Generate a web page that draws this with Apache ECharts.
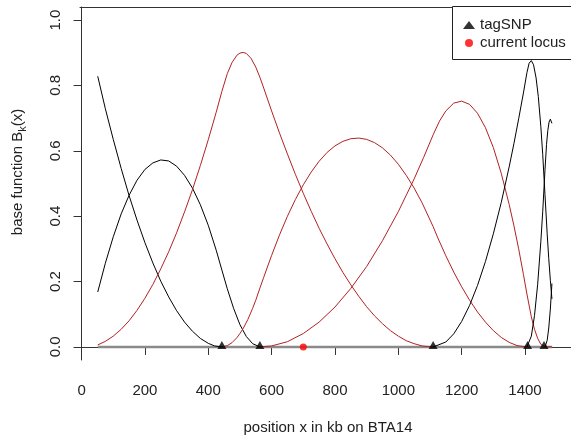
<!DOCTYPE html>
<html><head><meta charset="utf-8">
<script src="https://cdn.jsdelivr.net/npm/echarts@6/dist/echarts.min.js"></script>
<style>html,body{margin:0;padding:0;background:#fff;overflow:hidden}#c{width:584px;height:440px}</style>
</head><body><div id="c"></div>
<script>
// ---- data ----
const xTicks = [0, 200, 400, 600, 800, 1000, 1200, 1400];
const yTicks = [0, 0.2, 0.4, 0.6, 0.8, 1.0];
const tagSNP = [443, 563, 1110, 1408, 1460];
const currentLocus = [700];
const zeroLineX = [51, 1486];

// basis function 1 (black)
const b1x = [51, 75, 100, 125, 150, 175, 200, 225, 250, 275, 300, 325, 350, 375, 400, 420, 443];
const b1y = [0.828, 0.729, 0.635, 0.546, 0.463, 0.388, 0.319, 0.257, 0.201, 0.153, 0.111, 0.076, 0.048, 0.026, 0.011, 0.003, 0];
// basis function 2 (black)
const b2x = [51, 75, 100, 125, 150, 175, 200, 225, 250, 275, 300, 325, 350, 375, 400, 425, 443, 460, 480, 500, 520, 540, 563];
const b2y = [0.168, 0.256, 0.337, 0.407, 0.464, 0.510, 0.543, 0.563, 0.572, 0.569, 0.553, 0.525, 0.486, 0.435, 0.372, 0.296, 0.235, 0.178, 0.118, 0.068, 0.032, 0.010, 0];
// basis function 3 (red)
const b3x = [51, 75, 100, 125, 150, 175, 200, 225, 250, 275, 300, 325, 350, 375, 400, 425, 443, 460, 475, 490, 500, 510, 520, 535, 550, 563, 575, 600, 625, 650, 675, 700, 725, 750, 775, 800, 825, 850, 875, 900, 925, 950, 975, 1000, 1025, 1050, 1075, 1110];
const b3y = [0.006, 0.017, 0.033, 0.054, 0.080, 0.112, 0.149, 0.191, 0.239, 0.291, 0.349, 0.413, 0.481, 0.555, 0.634, 0.718, 0.782, 0.836, 0.870, 0.892, 0.899, 0.901, 0.898, 0.883, 0.856, 0.825, 0.792, 0.722, 0.654, 0.590, 0.528, 0.470, 0.415, 0.363, 0.315, 0.270, 0.228, 0.190, 0.155, 0.123, 0.095, 0.071, 0.050, 0.033, 0.019, 0.010, 0.003, 0];
// basis function 4 (red)
const b4x = [443, 460, 475, 490, 500, 510, 525, 540, 550, 563, 575, 600, 625, 650, 675, 700, 725, 750, 775, 800, 825, 850, 875, 900, 925, 950, 975, 1000, 1025, 1050, 1075, 1110, 1125, 1150, 1175, 1200, 1225, 1250, 1275, 1300, 1325, 1350, 1375, 1406];
const b4y = [0, 0.004, 0.013, 0.028, 0.041, 0.056, 0.084, 0.118, 0.143, 0.180, 0.213, 0.280, 0.343, 0.400, 0.451, 0.496, 0.535, 0.568, 0.595, 0.615, 0.629, 0.637, 0.639, 0.635, 0.625, 0.609, 0.587, 0.559, 0.525, 0.486, 0.441, 0.368, 0.333, 0.279, 0.229, 0.184, 0.143, 0.107, 0.076, 0.050, 0.029, 0.014, 0.004, 0];
// basis function 5 (red)
const b5x = [563, 600, 650, 700, 750, 800, 850, 900, 950, 1000, 1050, 1080, 1110, 1130, 1150, 1175, 1200, 1225, 1250, 1275, 1300, 1325, 1350, 1365, 1380, 1395, 1406, 1420, 1430, 1440, 1450, 1463, 1485];
const b5y = [0, 0.003, 0.016, 0.041, 0.076, 0.122, 0.179, 0.246, 0.325, 0.414, 0.514, 0.580, 0.649, 0.691, 0.722, 0.746, 0.752, 0.742, 0.715, 0.671, 0.610, 0.531, 0.436, 0.371, 0.300, 0.222, 0.162, 0.092, 0.054, 0.026, 0.008, 0, 0];
// basis function 6 (black)
const b6x = [1110, 1150, 1175, 1200, 1225, 1250, 1275, 1300, 1325, 1350, 1365, 1380, 1395, 1406, 1413, 1420, 1427, 1435, 1442, 1450, 1456, 1463, 1470, 1475, 1480, 1485];
const b6y = [0, 0.015, 0.040, 0.078, 0.127, 0.188, 0.261, 0.346, 0.442, 0.551, 0.622, 0.698, 0.777, 0.839, 0.868, 0.876, 0.863, 0.823, 0.766, 0.674, 0.588, 0.467, 0.346, 0.270, 0.204, 0.147];
// basis function 7 (black)
const b7x = [1406, 1420, 1430, 1440, 1450, 1456, 1463, 1468, 1472, 1476, 1480, 1483, 1485];
const b7y = [0, 0.033, 0.096, 0.192, 0.322, 0.415, 0.540, 0.620, 0.662, 0.688, 0.697, 0.692, 0.684];
// basis function 8 (black)
const b8x = [1463, 1470, 1475, 1480, 1485];
const b8y = [0, 0.020, 0.058, 0.116, 0.194];

// ---- chart ----
const FONT = '"Liberation Sans", Arial, sans-serif';
const BLACK = '#000000', RED = '#B22222';
const curves = [
  [b1x, b1y, BLACK], [b2x, b2y, BLACK], [b3x, b3y, RED], [b4x, b4y, RED],
  [b5x, b5y, RED], [b6x, b6y, BLACK], [b7x, b7y, BLACK], [b8x, b8y, BLACK]
];
const pairs = (xs, ys) => xs.map((x, i) => [x, ys[i]]);

const series = [{
  type: 'line', name: 'zero', data: zeroLineX.map(x => [x, 0]),
  showSymbol: false, silent: true, z: 2,
  lineStyle: { color: '#8a8a8a', width: 2.5 }
}];
curves.forEach((c, i) => series.push({
  type: 'line', name: 'B' + (i + 1), data: pairs(c[0], c[1]),
  showSymbol: false, silent: true, z: 3,
  lineStyle: { color: c[2], width: 1 }
}));
series.push({
  type: 'scatter', name: 'tagSNP', data: tagSNP.map(x => [x, 0]),
  symbol: 'triangle', symbolSize: [9, 8], symbolOffset: [0, -2], z: 5,
  itemStyle: { color: '#000' }
});
series.push({
  type: 'scatter', name: 'current locus', data: currentLocus.map(x => [x, 0]),
  symbol: 'circle', symbolSize: 7, z: 5,
  itemStyle: { color: '#FF0000' }
});

const frame = { show: true, lineStyle: { color: '#333', width: 1 } };
const chart = echarts.init(document.getElementById('c'), null, { renderer: 'canvas' });
chart.setOption({
  animation: false,
  backgroundColor: '#fff',
  textStyle: { fontFamily: FONT },
  grid: { left: 80, right: 8, top: 7, bottom: 79, show: false },
  xAxis: [{
    type: 'value', min: -5, max: 1561, position: 'bottom',
    axisLine: frame,
    axisTick: { show: true, length: 8, customValues: xTicks, lineStyle: { color: '#333' } },
    axisLabel: { customValues: xTicks, margin: 23, fontSize: 15, color: '#222', fontFamily: FONT,
      formatter: v => String(v) },
    splitLine: { show: false },
    name: 'position x in kb on BTA14', nameLocation: 'middle', nameGap: 60,
    nameTextStyle: { fontSize: 15, color: '#222', fontFamily: FONT }
  }, {
    type: 'value', min: -5, max: 1561, position: 'top',
    axisLine: frame, axisTick: { show: false }, axisLabel: { show: false }, splitLine: { show: false }
  }],
  yAxis: {
    type: 'value', min: -0.04, max: 1.04,
    axisLine: frame,
    axisTick: { show: true, length: 8, customValues: yTicks, lineStyle: { color: '#333' } },
    axisLabel: { customValues: yTicks, rotate: 90, margin: 17, fontSize: 15, color: '#222', fontFamily: FONT,
      formatter: v => v.toFixed(1) },
    splitLine: { show: false }
  },
  legend: {
    data: [{ name: 'tagSNP', icon: 'triangle' }, { name: 'current locus', icon: 'circle' }],
    orient: 'vertical', left: 452, top: 6, z: 20,
    padding: [11, 4, 9, 11], itemGap: 2, itemWidth: 12, itemHeight: 8,
    selectedMode: false,
    textStyle: { fontSize: 15, lineHeight: 16, color: '#222', fontFamily: FONT }
  },
  graphic: [{
    type: 'rect', z: 10, silent: true,
    shape: { x: 452.5, y: 6.5, width: 200, height: 53 },
    style: { fill: '#fff', stroke: '#222', lineWidth: 1 }
  }, {
    type: 'text', x: 18, y: 172, rotation: Math.PI / 2,
    style: {
      text: '{n|base function B}{s|k}{n|(x)}',
      align: 'center', verticalAlign: 'middle', fill: '#222',
      rich: {
        n: { fontSize: 15, fontFamily: FONT, lineHeight: 20, verticalAlign: 'middle', color: '#222' },
        s: { fontSize: 11, fontFamily: FONT, lineHeight: 20, verticalAlign: 'middle', padding: [9, 0, 0, 0], color: '#222' }
      }
    }
  }],
  series: series
});
</script></body></html>
